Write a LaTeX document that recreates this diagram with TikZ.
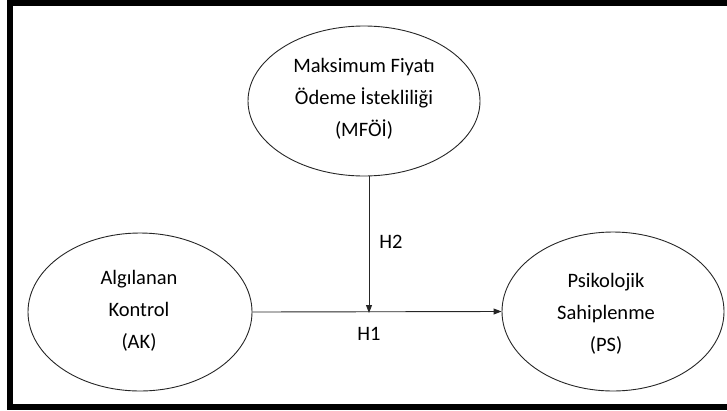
\documentclass[tikz,border=0pt]{standalone}
\usepackage{fontspec}
\setmainfont{Carlito}
\usetikzlibrary{shapes.geometric,arrows.meta}
\begin{document}
\begin{tikzpicture}[x=1pt,y=-1pt,
  var/.style={ellipse, draw=black!85, line width=0.9pt, inner sep=0pt},
  lbl/.style={align=center, font=\fontsize{20.5}{32}\selectfont, inner sep=0pt},
  conn/.style={draw=black!85, line width=0.9pt, -{Triangle[length=8pt,width=6pt]}},
  hlab/.style={font=\fontsize{20.5}{26}\selectfont, inner sep=0pt}]
\useasboundingbox (0,0) rectangle (727,410);
\draw[line width=6pt, line join=miter] (727,2.5) -- (10,2.5) -- (10,406.5) -- (727,406.5);
\node[var, minimum width=232pt, minimum height=150pt] (mfoi) at (364,101) {};
\node[var, minimum width=224pt, minimum height=158pt] (ak) at (140,312) {};
\node[var, minimum width=222pt, minimum height=159pt] (ps) at (613,311.5) {};
\node[lbl] (mfoit) at (364,99) {Maksimum Fiyatı\\Ödeme İstekliliği\\(MFÖİ)};
\node[lbl] (akt) at (139,311) {Algılanan\\Kontrol\\(AK)};
\node[lbl] (pst) at (606,314) {Psikolojik\\Sahiplenme\\(PS)};
\draw[conn] (ak.east) -- (ps.west);
\coordinate (meet) at (369,313);
\draw[conn] (mfoi.south -| meet) -- (meet);
\node[hlab] (h2) at (391,242) {H2};
\node[hlab] (h1) at (369,334) {H1};
\end{tikzpicture}
\end{document}
